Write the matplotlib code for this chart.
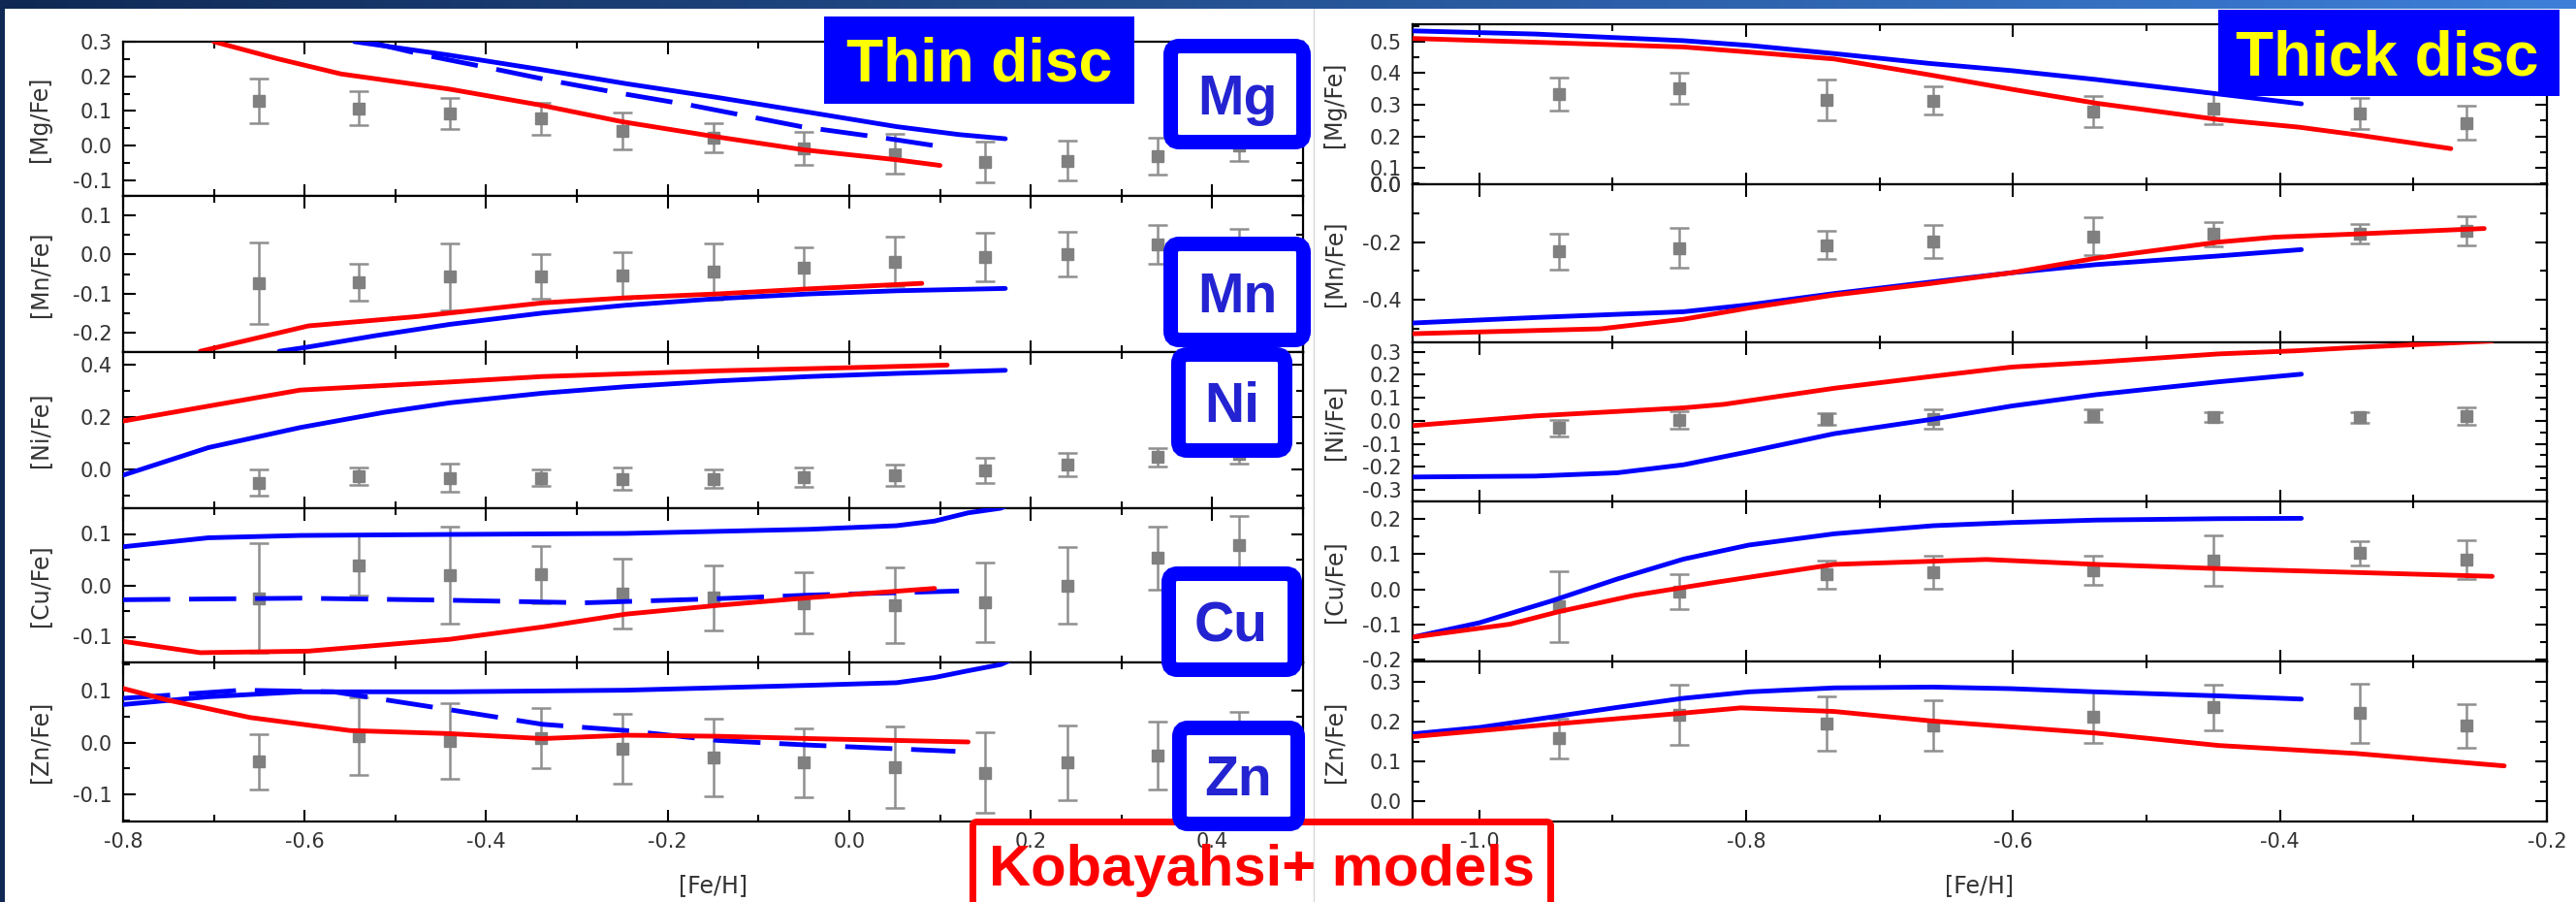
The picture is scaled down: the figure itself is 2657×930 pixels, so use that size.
import numpy as np
import matplotlib
matplotlib.use('Agg')
import matplotlib.pyplot as plt
from matplotlib.patches import FancyBboxPatch
from matplotlib.transforms import IdentityTransform
from matplotlib.ticker import MultipleLocator, FormatStrFormatter

plt.rcParams['axes.unicode_minus'] = False

# ---- thin disc data (left) ----
thin_feh = [-0.65, -0.54, -0.44, -0.34, -0.25, -0.15, -0.05, 0.05, 0.15, 0.24, 0.34, 0.43]
thin_mg = [0.129, 0.108, 0.093, 0.078, 0.043, 0.022, -0.008, -0.024, -0.046, -0.043, -0.031, 0.0]
thin_mg_err = [0.064, 0.05, 0.046, 0.046, 0.053, 0.042, 0.047, 0.058, 0.059, 0.058, 0.053, 0.045]
thin_mn = [-0.074, -0.071, -0.057, -0.057, -0.054, -0.044, -0.035, -0.018, -0.007, 0.002, 0.026, 0.028]
thin_mn_err = [0.105, 0.048, 0.086, 0.057, 0.06, 0.072, 0.054, 0.064, 0.062, 0.057, 0.049, 0.038]
thin_ni = [-0.052, -0.027, -0.033, -0.033, -0.037, -0.037, -0.031, -0.023, -0.005, 0.018, 0.047, 0.06]
thin_ni_err = [0.05, 0.035, 0.055, 0.033, 0.044, 0.036, 0.038, 0.041, 0.047, 0.044, 0.035, 0.04]
thin_cu = [-0.025, 0.039, 0.02, 0.021, -0.016, -0.024, -0.034, -0.039, -0.033, 0.0, 0.053, 0.079]
thin_cu_err = [0.107, 0.058, 0.094, 0.055, 0.068, 0.063, 0.06, 0.074, 0.078, 0.075, 0.061, 0.056]
thin_zn = [-0.037, 0.012, 0.003, 0.009, -0.012, -0.029, -0.039, -0.047, -0.058, -0.039, -0.025, -0.012]
thin_zn_err = [0.053, 0.074, 0.073, 0.058, 0.068, 0.075, 0.067, 0.078, 0.077, 0.072, 0.065, 0.07]

# thin disc model curves (red solid, blue solid, blue dashed)
thin_mg_red_x = [-0.70, -0.63, -0.56, -0.44, -0.34, -0.25, -0.15, -0.05, 0.05, 0.10]
thin_mg_red_y = [0.30, 0.251, 0.207, 0.163, 0.117, 0.069, 0.027, -0.012, -0.040, -0.057]
thin_mg_blue_x = [-0.545, -0.44, -0.338, -0.246, -0.145, -0.046, 0.052, 0.121, 0.172]
thin_mg_blue_y = [0.300, 0.261, 0.219, 0.179, 0.139, 0.097, 0.055, 0.032, 0.020]
thin_mg_dash_x = [-0.531, -0.467, -0.394, -0.329, -0.256, -0.173, -0.053, 0.039, 0.112]
thin_mg_dash_y = [0.300, 0.261, 0.223, 0.188, 0.153, 0.116, 0.055, 0.022, -0.007]

thin_mn_red_x = [-0.715, -0.596, -0.476, -0.338, -0.246, -0.145, -0.044, 0.080]
thin_mn_red_y = [-0.248, -0.183, -0.159, -0.124, -0.111, -0.101, -0.088, -0.074]
thin_mn_blue_x = [-0.628, -0.596, -0.522, -0.44, -0.338, -0.246, -0.145, -0.044, 0.052, 0.172]
thin_mn_blue_y = [-0.248, -0.237, -0.208, -0.179, -0.150, -0.130, -0.113, -0.101, -0.093, -0.087]

thin_ni_red_x = [-0.8, -0.605, -0.44, -0.338, -0.145, 0.0, 0.108]
thin_ni_red_y = [0.185, 0.304, 0.335, 0.356, 0.378, 0.390, 0.400]
thin_ni_blue_x = [-0.8, -0.706, -0.605, -0.513, -0.44, -0.338, -0.246, -0.145, -0.044, 0.052, 0.172]
thin_ni_blue_y = [-0.023, 0.083, 0.160, 0.218, 0.255, 0.292, 0.317, 0.339, 0.356, 0.368, 0.380]

thin_cu_red_x = [-0.8, -0.715, -0.596, -0.44, -0.338, -0.246, -0.145, -0.044, 0.094]
thin_cu_red_y = [-0.109, -0.131, -0.128, -0.105, -0.081, -0.056, -0.039, -0.024, -0.006]
thin_cu_blue_x = [-0.8, -0.706, -0.605, -0.44, -0.246, -0.044, 0.052, 0.094, 0.131, 0.167, 0.18]
thin_cu_blue_y = [0.075, 0.0925, 0.097, 0.099, 0.101, 0.109, 0.116, 0.125, 0.141, 0.150, 0.16]
thin_cu_dash_x = [-0.8, -0.605, -0.44, -0.292, -0.145, -0.044, 0.121]
thin_cu_dash_y = [-0.028, -0.025, -0.029, -0.034, -0.026, -0.019, -0.011]

thin_zn_red_x = [-0.8, -0.752, -0.66, -0.55, -0.44, -0.338, -0.246, -0.145, -0.044, 0.131]
thin_zn_red_y = [0.104, 0.082, 0.048, 0.023, 0.017, 0.0075, 0.014, 0.012, 0.0075, 0.001]
thin_zn_blue_x = [-0.8, -0.706, -0.605, -0.44, -0.246, -0.044, 0.052, 0.094, 0.131, 0.167, 0.18]
thin_zn_blue_y = [0.073, 0.088, 0.0975, 0.0975, 0.1006, 0.110, 0.115, 0.125, 0.138, 0.150, 0.16]
thin_zn_dash_x = [-0.8, -0.669, -0.568, -0.44, -0.338, -0.246, -0.145, -0.044, 0.117]
thin_zn_dash_y = [0.085, 0.1006, 0.0975, 0.063, 0.035, 0.023, 0.004, -0.005, -0.017]

# ---- thick disc data (right) ----
thick_feh = [-0.94, -0.85, -0.74, -0.66, -0.54, -0.45, -0.34, -0.26]
thick_mg = [0.334, 0.351, 0.316, 0.313, 0.279, 0.289, 0.272, 0.243]
thick_mg_err = [0.052, 0.049, 0.064, 0.045, 0.049, 0.049, 0.05, 0.053]
thick_mn = [-0.233, -0.22, -0.211, -0.198, -0.18, -0.172, -0.172, -0.161]
thick_mn_err = [0.061, 0.068, 0.049, 0.058, 0.065, 0.042, 0.034, 0.05]
thick_ni = [-0.032, 0.003, 0.007, 0.007, 0.021, 0.017, 0.014, 0.021]
thick_ni_err = [0.035, 0.038, 0.025, 0.042, 0.028, 0.022, 0.022, 0.039]
thick_cu = [-0.049, -0.007, 0.043, 0.048, 0.055, 0.082, 0.103, 0.085]
thick_cu_err = [0.1, 0.05, 0.04, 0.047, 0.041, 0.072, 0.034, 0.056]
thick_zn = [0.158, 0.217, 0.195, 0.189, 0.211, 0.235, 0.221, 0.189]
thick_zn_err = [0.05, 0.076, 0.068, 0.063, 0.064, 0.058, 0.074, 0.054]

thick_mg_red_x = [-1.05, -0.958, -0.847, -0.798, -0.734, -0.663, -0.601, -0.538, -0.446, -0.386, -0.343, -0.272]
thick_mg_red_y = [0.510, 0.498, 0.483, 0.467, 0.445, 0.395, 0.349, 0.305, 0.253, 0.229, 0.205, 0.161]
thick_mg_blue_x = [-1.05, -0.958, -0.847, -0.798, -0.734, -0.663, -0.601, -0.538, -0.446, -0.384]
thick_mg_blue_y = [0.534, 0.524, 0.503, 0.488, 0.462, 0.431, 0.408, 0.380, 0.334, 0.303]

thick_mn_red_x = [-1.05, -0.909, -0.847, -0.798, -0.734, -0.663, -0.601, -0.538, -0.446, -0.404, -0.343, -0.247]
thick_mn_red_y = [-0.517, -0.5, -0.467, -0.428, -0.383, -0.344, -0.306, -0.256, -0.2, -0.183, -0.172, -0.153]
thick_mn_blue_x = [-1.05, -0.958, -0.847, -0.798, -0.734, -0.663, -0.601, -0.538, -0.446, -0.384]
thick_mn_blue_y = [-0.48, -0.461, -0.441, -0.417, -0.378, -0.339, -0.306, -0.278, -0.248, -0.226]

thick_ni_red_x = [-1.05, -0.958, -0.847, -0.817, -0.734, -0.663, -0.601, -0.538, -0.446, -0.386, -0.343, -0.241]
thick_ni_red_y = [-0.021, 0.021, 0.056, 0.071, 0.141, 0.191, 0.233, 0.254, 0.290, 0.304, 0.318, 0.346]
thick_ni_blue_x = [-1.05, -0.958, -0.897, -0.847, -0.798, -0.734, -0.660, -0.601, -0.538, -0.446, -0.384]
thick_ni_blue_y = [-0.244, -0.240, -0.226, -0.191, -0.134, -0.056, 0.007, 0.064, 0.113, 0.169, 0.202]

thick_cu_red_x = [-1.05, -0.977, -0.940, -0.884, -0.823, -0.734, -0.660, -0.620, -0.538, -0.446, -0.343, -0.241]
thick_cu_red_y = [-0.136, -0.099, -0.063, -0.017, 0.020, 0.071, 0.080, 0.085, 0.071, 0.059, 0.048, 0.037]
thick_cu_blue_x = [-1.05, -1.0, -0.946, -0.897, -0.847, -0.798, -0.734, -0.660, -0.601, -0.538, -0.446, -0.384]
thick_cu_blue_y = [-0.136, -0.095, -0.033, 0.029, 0.086, 0.126, 0.158, 0.181, 0.190, 0.197, 0.201, 0.202]

thick_zn_red_x = [-1.05, -0.946, -0.847, -0.804, -0.734, -0.660, -0.538, -0.446, -0.343, -0.232]
thick_zn_red_y = [0.162, 0.193, 0.221, 0.234, 0.225, 0.201, 0.171, 0.140, 0.120, 0.089]
thick_zn_blue_x = [-1.05, -1.0, -0.946, -0.897, -0.847, -0.798, -0.734, -0.660, -0.601, -0.538, -0.446, -0.384]
thick_zn_blue_y = [0.169, 0.185, 0.211, 0.235, 0.258, 0.274, 0.284, 0.286, 0.282, 0.274, 0.264, 0.256]

ylabels = ['[Mg/Fe]', '[Mn/Fe]', '[Ni/Fe]', '[Cu/Fe]', '[Zn/Fe]']
elements = ['Mg', 'Mn', 'Ni', 'Cu', 'Zn']

W, H = 2657, 930
fig = plt.figure(figsize=(W / 100, H / 100), dpi=100)
fig.patch.set_facecolor('white')


def px_box(x0, y0, x1, y1):
    return [x0 / W, 1 - y1 / H, (x1 - x0) / W, (y1 - y0) / H]


RED = '#ff0000'
BLUE = '#0000ff'
TXT = '#333333'


def style(ax, ylim, major, minor, xlim, label, label_x, bottom):
    ax.set_xlim(xlim)
    ax.set_ylim(ylim)
    ax.xaxis.set_major_locator(MultipleLocator(0.2))
    ax.xaxis.set_minor_locator(MultipleLocator(0.1))
    ax.yaxis.set_major_locator(MultipleLocator(major))
    ax.yaxis.set_minor_locator(MultipleLocator(minor))
    ax.yaxis.set_major_formatter(FormatStrFormatter('%.1f'))
    ax.xaxis.set_major_formatter(FormatStrFormatter('%.1f'))
    ax.tick_params(which='both', direction='in', top=True, right=True,
                   width=1.5, colors='black', labelcolor=TXT, labelsize=15)
    ax.tick_params(which='major', length=9, pad=8)
    ax.tick_params(which='minor', length=5)
    ax.tick_params(labelbottom=bottom)
    for s in ax.spines.values():
        s.set_linewidth(1.6)
    ax.set_ylabel(label, fontsize=17, color=TXT)
    ax.yaxis.set_label_coords(label_x, 0.5)


def model(ax, x, y, color, dashed=False):
    if dashed:
        ax.plot(x, y, color=color, lw=3.5, linestyle=(0, (10, 4)), zorder=3)
    else:
        ax.plot(x, y, color=color, lw=3.5, solid_capstyle='round', zorder=3)


def points(ax, x, y, err):
    ax.errorbar(x, y, yerr=err, fmt='s', ms=9, color='#808080', ecolor='#8f8f8f',
                elinewidth=1.8, capsize=7, capthick=1.8, zorder=2)


# ---- left: thin disc ----
left_x0, left_x1 = 127, 1344
left_edges = [43, 202, 363, 524, 683, 847]
thin_lims = [(-0.145, 0.30), (-0.25, 0.15), (-0.15, 0.45), (-0.15, 0.15), (-0.152, 0.154)]
thin_major = [0.1, 0.1, 0.2, 0.1, 0.1]
thin_minor = [0.05, 0.05, 0.1, 0.05, 0.05]
thin_obs = [(thin_mg, thin_mg_err), (thin_mn, thin_mn_err), (thin_ni, thin_ni_err),
            (thin_cu, thin_cu_err), (thin_zn, thin_zn_err)]
thin_red = [(thin_mg_red_x, thin_mg_red_y), (thin_mn_red_x, thin_mn_red_y), (thin_ni_red_x, thin_ni_red_y),
            (thin_cu_red_x, thin_cu_red_y), (thin_zn_red_x, thin_zn_red_y)]
thin_blue = [(thin_mg_blue_x, thin_mg_blue_y), (thin_mn_blue_x, thin_mn_blue_y), (thin_ni_blue_x, thin_ni_blue_y),
             (thin_cu_blue_x, thin_cu_blue_y), (thin_zn_blue_x, thin_zn_blue_y)]
thin_dash = [(thin_mg_dash_x, thin_mg_dash_y), None, None,
             (thin_cu_dash_x, thin_cu_dash_y), (thin_zn_dash_x, thin_zn_dash_y)]

for i in range(5):
    ax = fig.add_axes(px_box(left_x0, left_edges[i], left_x1, left_edges[i + 1]))
    style(ax, thin_lims[i], thin_major[i], thin_minor[i], (-0.8, 0.5), ylabels[i],
          (53 - left_x0) / (left_x1 - left_x0), i == 4)
    points(ax, thin_feh, thin_obs[i][0], thin_obs[i][1])
    if thin_dash[i] is not None:
        model(ax, thin_dash[i][0], thin_dash[i][1], BLUE, dashed=True)
    model(ax, thin_blue[i][0], thin_blue[i][1], BLUE)
    model(ax, thin_red[i][0], thin_red[i][1], RED)
    if i == 4:
        ax.set_xlabel('[Fe/H]', fontsize=17, color=TXT)
        ax.xaxis.set_label_coords(0.5, -0.33)

# ---- right: thick disc ----
right_x0, right_x1 = 1457, 2627
right_edges = [25, 190, 353, 517, 682, 847]
thick_lims = [(0.048, 0.555), (-0.547, 0.0), (-0.35, 0.34), (-0.205, 0.25), (-0.05, 0.35)]
thick_major = [0.1, 0.2, 0.1, 0.1, 0.1]
thick_minor = [0.05, 0.1, 0.05, 0.05, 0.05]
thick_obs = [(thick_mg, thick_mg_err), (thick_mn, thick_mn_err), (thick_ni, thick_ni_err),
             (thick_cu, thick_cu_err), (thick_zn, thick_zn_err)]
thick_red = [(thick_mg_red_x, thick_mg_red_y), (thick_mn_red_x, thick_mn_red_y), (thick_ni_red_x, thick_ni_red_y),
             (thick_cu_red_x, thick_cu_red_y), (thick_zn_red_x, thick_zn_red_y)]
thick_blue = [(thick_mg_blue_x, thick_mg_blue_y), (thick_mn_blue_x, thick_mn_blue_y), (thick_ni_blue_x, thick_ni_blue_y),
              (thick_cu_blue_x, thick_cu_blue_y), (thick_zn_blue_x, thick_zn_blue_y)]

for i in range(5):
    ax = fig.add_axes(px_box(right_x0, right_edges[i], right_x1, right_edges[i + 1]))
    style(ax, thick_lims[i], thick_major[i], thick_minor[i], (-1.05, -0.2), ylabels[i],
          (1388 - right_x0) / (right_x1 - right_x0), i == 4)
    points(ax, thick_feh, thick_obs[i][0], thick_obs[i][1])
    model(ax, thick_blue[i][0], thick_blue[i][1], BLUE)
    model(ax, thick_red[i][0], thick_red[i][1], RED)
    if i == 0:
        ax.set_yticks([0.048, 0.1, 0.2, 0.3, 0.4, 0.5], ['0.0', '0.1', '0.2', '0.3', '0.4', '0.5'])
    if i == 4:
        ax.set_xlabel('[Fe/H]', fontsize=17, color=TXT)
        ax.xaxis.set_label_coords(0.5, -0.33)

# ---- slide frame ----
bar = np.linspace(0, 1, W)
top = np.zeros((9, W, 3))
c0 = np.array([0.06, 0.16, 0.33])
c1 = np.array([0.24, 0.50, 0.85])
top[:, :, :] = c0 + (c1 - c0) * bar[None, :, None]
fig.figimage(top, xo=0, yo=H - 9, origin='upper', zorder=5)
side = np.zeros((H, 5, 3))
side[:, :, :] = c0
fig.figimage(side, xo=0, yo=0, origin='upper', zorder=5)
fig.add_artist(plt.Line2D([1355, 1355], [0, H - 9], transform=IdentityTransform(),
                          color='#d8d8d8', lw=1))


def frame(x0, y0, x1, y1, lw_px, edge, face):
    h = lw_px / 2.0
    p = FancyBboxPatch((x0 + h, H - y1 + h), (x1 - x0) - lw_px, (y1 - y0) - lw_px,
                       boxstyle='round,pad=0,rounding_size=%g' % max(lw_px * 0.6, 0.01),
                       transform=IdentityTransform(), lw=lw_px * 0.72,
                       edgecolor=edge, facecolor=face, zorder=6)
    fig.add_artist(p)


def label(x, y, s, size, color):
    fig.text(x / W, 1 - y / H, s, fontsize=size, color=color, fontweight='bold',
             family='Liberation Sans', ha='center', va='baseline', zorder=7)


# title boxes
fig.add_artist(plt.Rectangle((850, H - 107), 320, 90, transform=IdentityTransform(),
                             facecolor=BLUE, edgecolor='none', zorder=6))
label(1010, 83, 'Thin disc', 45, '#ffff00')
fig.add_artist(plt.Rectangle((2288, H - 99), 352, 89, transform=IdentityTransform(),
                             facecolor=BLUE, edgecolor='none', zorder=6))
label(2462, 77, 'Thick disc', 46, '#ffff00')

# Kobayashi label (open frame, tick labels show through)
frame(1000, 844, 1603, 945, 7, RED, 'none')
label(1302, 913, 'Kobayahsi+ models', 43, RED)

# element boxes
elem_boxes = [(1200, 40, 1352, 154), (1200, 244, 1352, 358), (1208, 358, 1333, 472),
              (1198, 584, 1343, 698), (1209, 743, 1346, 857)]
elem_base = [(1276, 118), (1276, 322), (1271, 435), (1270, 661), (1277, 820)]
for b, (tx, ty), el in zip(elem_boxes, elem_base, elements):
    frame(b[0], b[1], b[2], b[3], 15, BLUE, 'white')
    label(tx, ty, el, 41, '#2323d2')

fig.savefig('out.png', dpi=100, facecolor='white')
